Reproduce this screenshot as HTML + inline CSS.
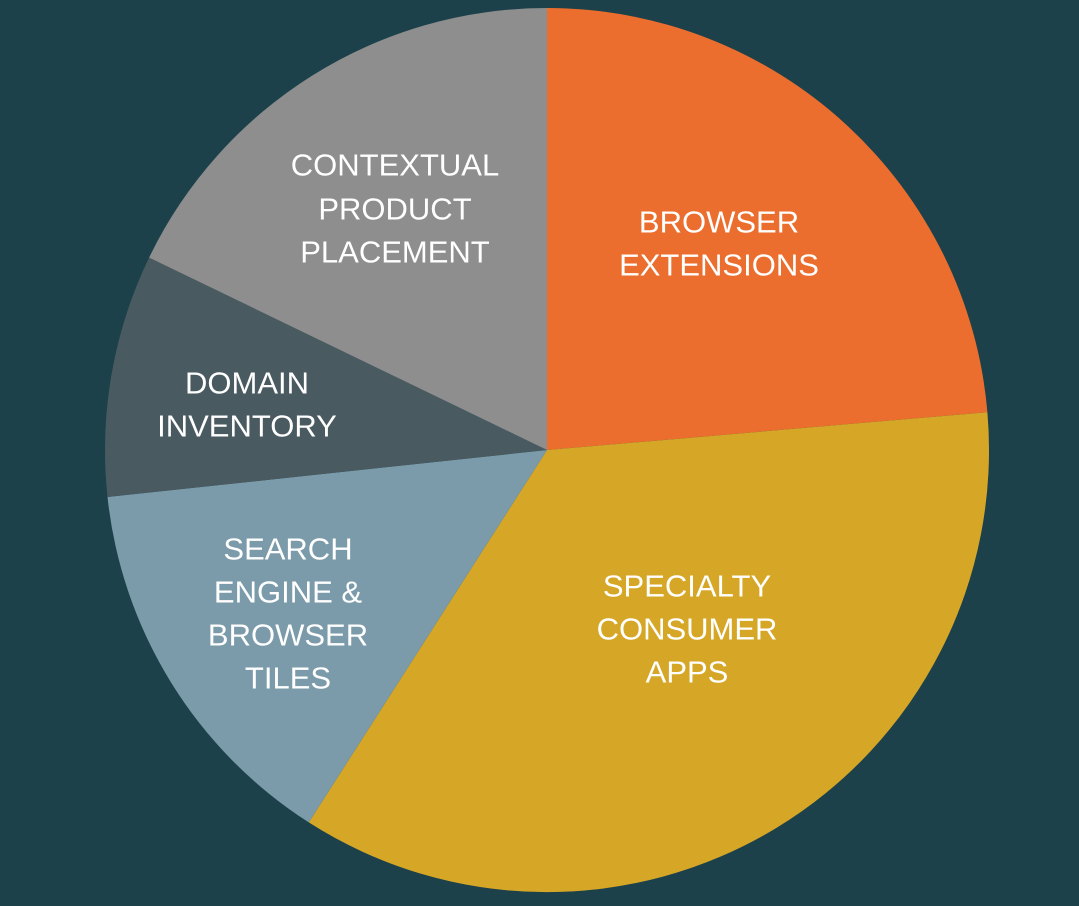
<!DOCTYPE html>
<html><head><meta charset="utf-8"><style>
html,body{margin:0;padding:0;background:#1C414A;}
svg{display:block}
text{font-family:"Liberation Sans",sans-serif;font-size:31px;fill:#fff;text-anchor:middle;dominant-baseline:central}
</style></head><body>
<svg width="1079" height="906" viewBox="0 0 1079 906">
<rect width="1079" height="906" fill="#1C414A"/>
<path d="M547,450 L547,8 A442,442 0 0 1 987.4,412.2 Z" fill="#EC6E2E"/>
<path d="M547,450 L987.4,412.2 A442,442 0 0 1 308.8,822.4 Z" fill="#D6A726"/>
<path d="M547,450 L308.8,822.4 A442,442 0 0 1 107.5,497 Z" fill="#7B9BAA"/>
<path d="M547,450 L107.5,497 A442,442 0 0 1 149.1,257.6 Z" fill="#4A5A61"/>
<path d="M547,450 L149.1,257.6 A442,442 0 0 1 547,8 Z" fill="#8E8E8E"/>
<text x="719" y="222">BROWSER</text>
<text x="719" y="265">EXTENSIONS</text>
<text x="395" y="165">CONTEXTUAL</text>
<text x="395" y="209">PRODUCT</text>
<text x="395" y="252">PLACEMENT</text>
<text x="247" y="383">DOMAIN</text>
<text x="247" y="426">INVENTORY</text>
<text x="288" y="549">SEARCH</text>
<text x="288" y="592">ENGINE &amp;</text>
<text x="288" y="635">BROWSER</text>
<text x="288" y="678">TILES</text>
<text x="687" y="586">SPECIALTY</text>
<text x="687" y="629">CONSUMER</text>
<text x="687" y="672">APPS</text>
</svg>
</body></html>
